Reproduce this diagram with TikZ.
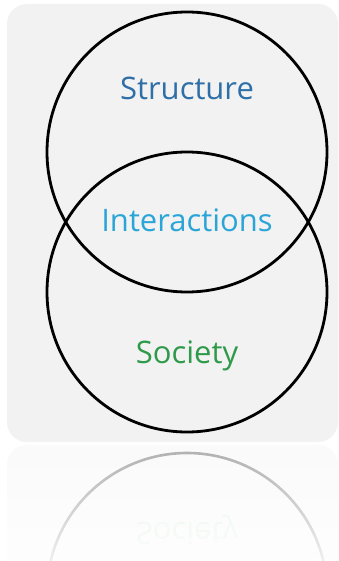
\documentclass[tikz,border=0pt]{standalone}
\usepackage{fontspec}
\setmainfont{Open Sans}
\usetikzlibrary{fadings}
\definecolor{panel}{HTML}{F2F2F2}
\definecolor{cstruct}{HTML}{2F6FA8}
\definecolor{cinter}{HTML}{2AA5D8}
\definecolor{csoc}{HTML}{2E9A4A}
\tikzfading[name=whitefade, top color=transparent!80, bottom color=transparent!15]
\tikzset{
  ring/.style={circle, draw=black, line width=2.8pt, minimum size=280pt, inner sep=0pt},
  label/.style={font=\fontsize{31}{36}\selectfont, anchor=base, inner sep=0pt},
}
\begin{document}
\begin{tikzpicture}[x=1pt,y=-1pt]
\useasboundingbox (0,0) rectangle (339,561);
\fill[white] (0,0) rectangle (339,561);
% reflection
\begin{scope}
\clip (0,443) rectangle (339,561);
\fill[panel!45, rounded corners=20pt] (7,445) rectangle (338,880);
\node[ring, draw=gray!80, line width=2.6pt] (rring) at (187,593) {};
\node[label, text=csoc!14!white, yscale=-1] (rsoc) at (187,522) {Society};
\fill[white, path fading=whitefade] (0,443) rectangle (339,561);
\end{scope}
% panel
\fill[panel, rounded corners=20pt] (7,4) rectangle (338,442);
\node[ring] (top) at (187,152) {};
\node[ring] (bot) at (187,292) {};
\node[label, text=cstruct] (s) at (187,100) {Structure};
\node[label, text=cinter] (i) at (187,231) {Interactions};
\node[label, text=csoc] (so) at (187,363) {Society};
\end{tikzpicture}
\end{document}
